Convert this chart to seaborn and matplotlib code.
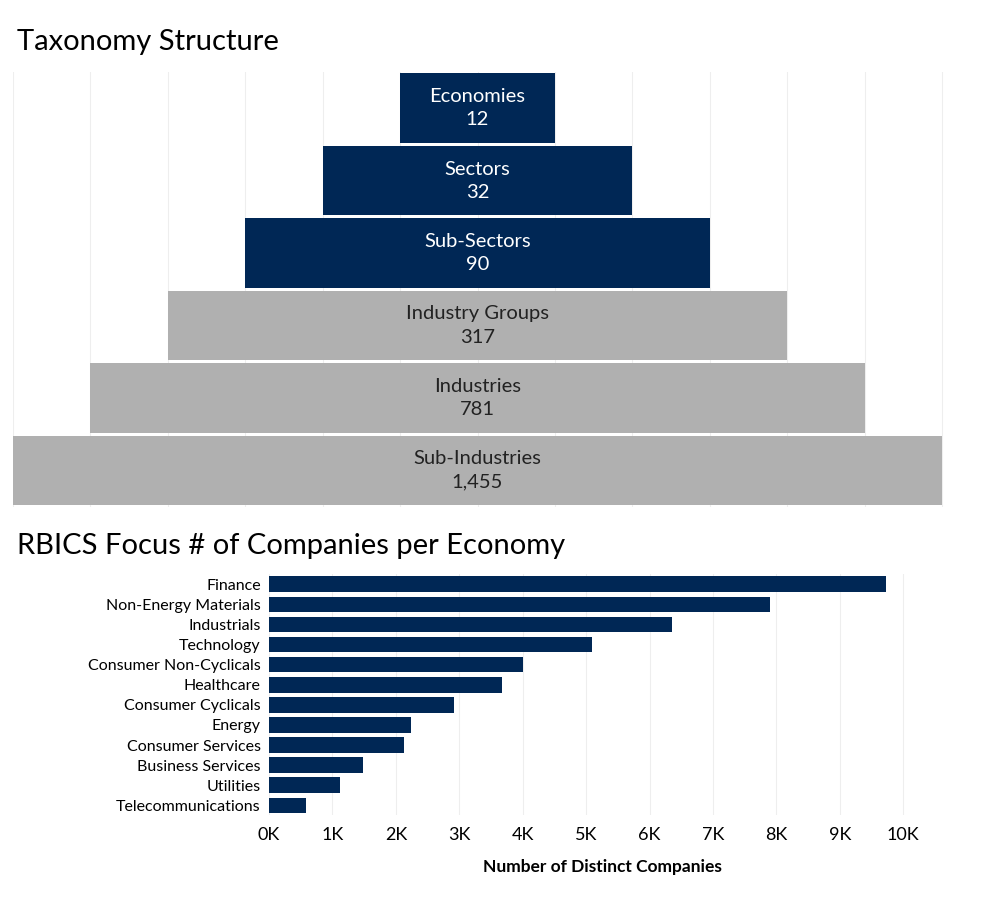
import matplotlib
matplotlib.use("Agg")
import matplotlib.pyplot as plt
import seaborn as sbn
import pandas as pd
import numpy as np

plt.rcParams["font.family"] = "Lato"

levels = ["Economies", "Sectors", "Sub-Sectors", "Industry Groups", "Industries", "Sub-Industries"]
level_counts = [12, 32, 90, 317, 781, 1455]
level_rank = [1, 2, 3, 4, 5, 6]

economies = ["Finance", "Non-Energy Materials", "Industrials", "Technology",
             "Consumer Non-Cyclicals", "Healthcare", "Consumer Cyclicals", "Energy",
             "Consumer Services", "Business Services", "Utilities", "Telecommunications"]
companies = [9730, 7900, 6350, 5090, 4000, 3680, 2920, 2240, 2130, 1480, 1120, 580]

navy = "#002755"
grey = "#b0b0b0"

fig = plt.figure(figsize=(10, 9), dpi=100)

# pyramid
ax1 = fig.add_axes([0.013, 0.437, 0.977, 0.483])
colors = [navy, navy, navy, grey, grey, grey]
ax1.barh(levels, level_rank, left=[-r / 2 for r in level_rank], height=0.96, color=colors, zorder=2)
for i, (name, c) in enumerate(zip(levels, level_counts)):
    tc = "white" if i < 3 else "#222222"
    ax1.text(0, i, f"{name}\n{c:,}", ha="center", va="center", color=tc,
             fontsize=14.5, linespacing=1.45, zorder=3)
ax1.set_ylim(5.5, -0.5)
ax1.set_xlim(-3, 3.31)
ax1.set_xticks(np.arange(-3, 3.5, 0.5))
ax1.grid(axis="x", color="#eeeeee", lw=0.8, zorder=0)
ax1.set_yticks([])
ax1.tick_params(axis="x", length=0, labelbottom=False)
for s in ax1.spines.values():
    s.set_visible(False)
fig.text(0.017, 0.953, "Taxonomy Structure", fontsize=21, va="center")

# economies bar chart
df = pd.DataFrame({"Economy": economies, "Companies": companies})
ax2 = fig.add_axes([0.269, 0.094, 0.666, 0.268])
sbn.barplot(data=df, y="Economy", x="Companies", color=navy, saturation=1,
            width=0.78, ax=ax2, zorder=2)
ax2.set_xlim(0, 10500)
ax2.set_xticks(np.arange(0, 10001, 1000))
ax2.set_xticklabels([f"{k}K" for k in range(11)], fontsize=13)
ax2.tick_params(axis="y", length=0, labelsize=11.5, pad=6)
ax2.tick_params(axis="x", length=0, pad=8)
ax2.grid(axis="x", color="#eeeeee", lw=0.8, zorder=0)
ax2.set_ylabel("")
ax2.set_xlabel("Number of Distinct Companies", fontsize=12.5, fontweight="bold", labelpad=12)
for s in ax2.spines.values():
    s.set_visible(False)
fig.text(0.017, 0.393, "RBICS Focus # of Companies per Economy", fontsize=21, va="center")

fig.savefig("out.png", dpi=100)
